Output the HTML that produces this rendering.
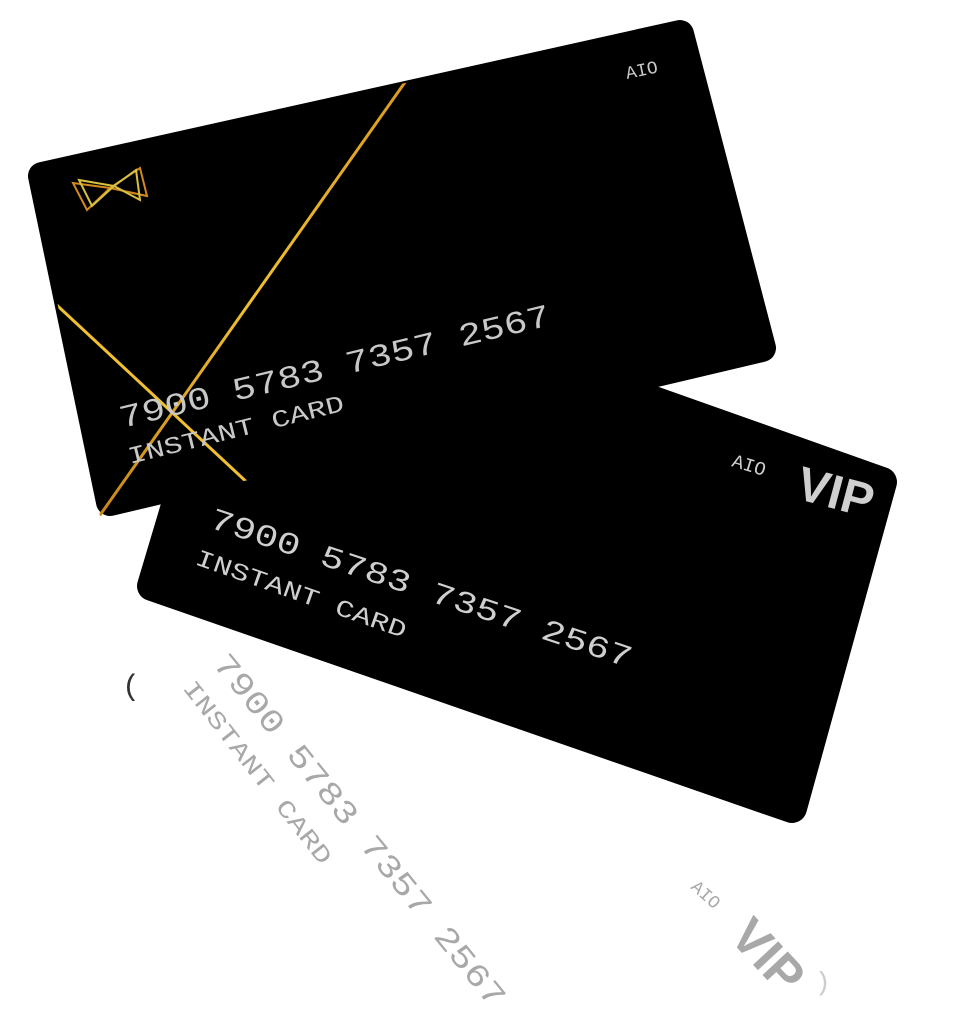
<!DOCTYPE html>
<html><head><style>html,body{margin:0;padding:0;background:#fff;width:956px;height:1024px;overflow:hidden}</style></head>
<body>
<svg width="956" height="1024" viewBox="0 0 956 1024" xmlns="http://www.w3.org/2000/svg" font-family="'Liberation Mono', monospace">
<defs>
<linearGradient id="g" x1="0" y1="1" x2="1" y2="0">
<stop offset="0" stop-color="#c8861a"/><stop offset="0.5" stop-color="#f0c030"/><stop offset="1" stop-color="#d89a20"/>
</linearGradient>
<clipPath id="c1"><polygon points="30,166 690,20 776,352 100,516"/></clipPath>
</defs>
<!-- reflection -->
<g fill="#a8a8a8">
<text x="0" y="0" font-size="32" textLength="444" lengthAdjust="spacingAndGlyphs" transform="translate(212,664) rotate(51)">7900 5783 7357 2567</text>
<text x="0" y="0" font-size="24" textLength="226" lengthAdjust="spacingAndGlyphs" transform="translate(182,688) rotate(52)">INSTANT CARD</text>
<text x="0" y="0" font-size="18" transform="translate(690,888) rotate(42)">AIO</text>
<text x="0" y="0" font-size="50" font-weight="bold" font-family="'Liberation Sans',sans-serif" transform="translate(728,938) rotate(47)">VIP</text>
</g>
<text x="122" y="695" font-size="30" fill="#333">(</text>
<text x="815" y="990" font-size="26" fill="#ccc">)</text>
<!-- card2 -->
<polygon points="250,258 882,482 792,808 152,586" fill="#000" stroke="#000" stroke-width="30" stroke-linejoin="round"/>
<g fill="#cfcfcf">
<text font-size="31" textLength="443" lengthAdjust="spacingAndGlyphs" transform="translate(208,527) rotate(18.5)">7900 5783 7357 2567</text>
<text font-size="24" textLength="222" lengthAdjust="spacingAndGlyphs" transform="translate(194,564) rotate(19.5)">INSTANT CARD</text>
<text font-size="19" transform="translate(731,466) rotate(17)">AIO</text>
<text font-size="48" font-weight="bold" font-family="'Liberation Sans',sans-serif" transform="translate(794,498) rotate(15)">VIP</text>
</g>
<!-- card1 -->
<polygon points="42,176 680,34 762,348 110,502" fill="#000" stroke="#000" stroke-width="28" stroke-linejoin="round"/>
<g clip-path="url(#c1)" stroke="url(#g)" stroke-width="3">
<line x1="408" y1="78" x2="98" y2="518"/>
<line x1="46" y1="295" x2="252" y2="487"/>
</g>
<g fill="none" stroke-width="2">
<polygon points="73,183 87,210 110,188" stroke="#d08a20"/>
<polygon points="110,188 140,168 147,196" stroke="#d08a20"/>
<polygon points="79,180 92,206 114,186" stroke="#d8c040"/>
<polygon points="114,186 136,170 140,200" stroke="#d8c040"/>
</g>
<g fill="#c8c8c8">
<text font-size="32" textLength="442" lengthAdjust="spacingAndGlyphs" transform="translate(122,428) rotate(-13.5)">7900 5783 7357 2567</text>
<text font-size="24" textLength="222" lengthAdjust="spacingAndGlyphs" transform="translate(130,464) rotate(-14)">INSTANT CARD</text>
<text font-size="18" transform="translate(627,79) rotate(-12)">AIO</text>
</g>
</svg>
</body></html>
